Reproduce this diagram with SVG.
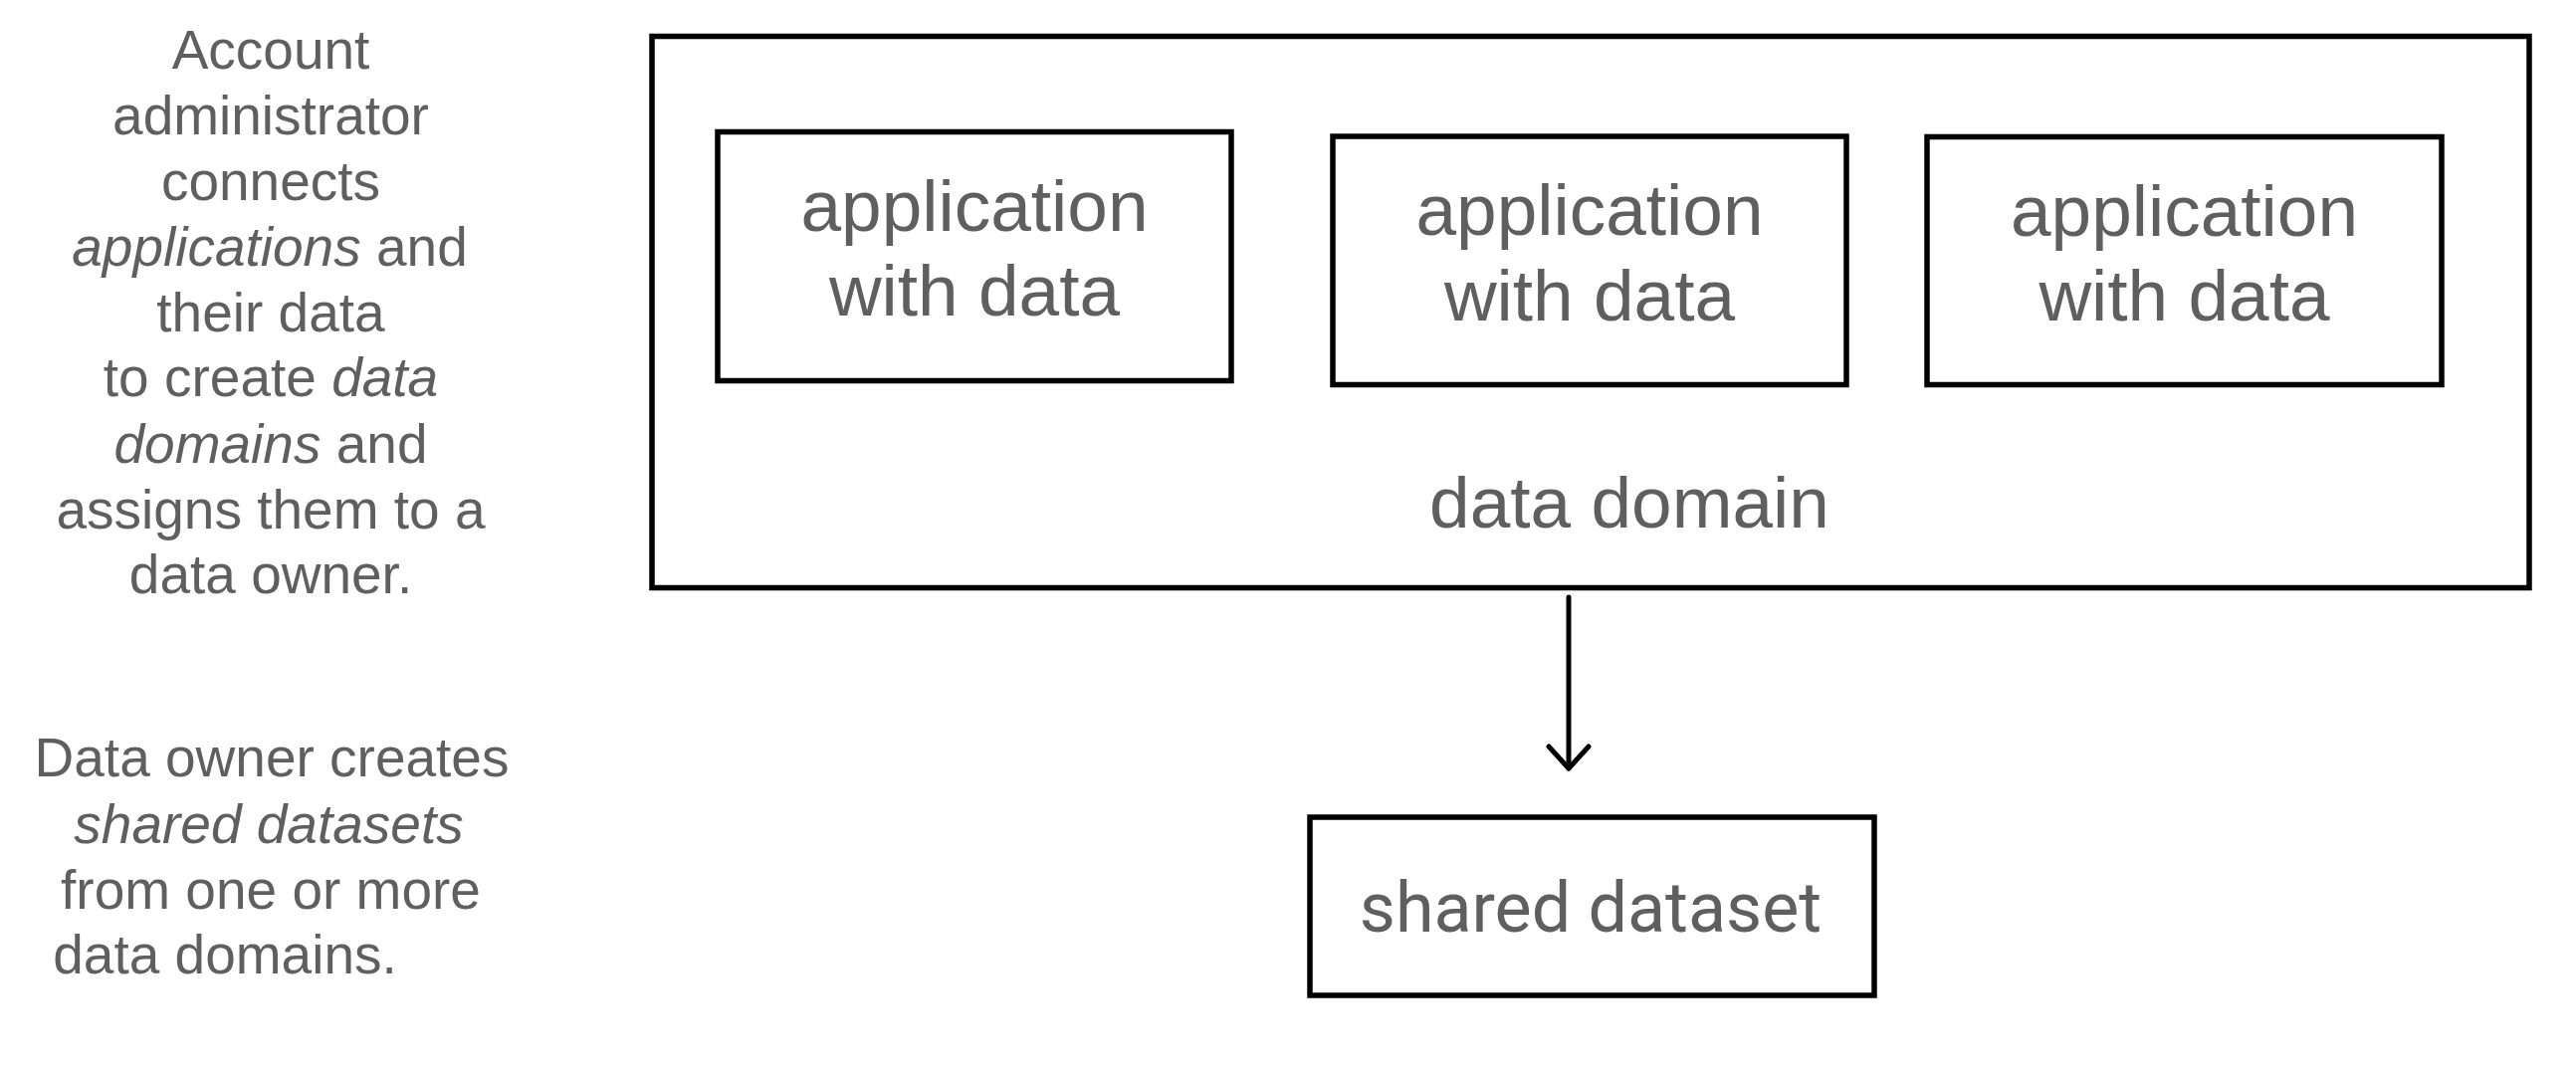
<svg xmlns="http://www.w3.org/2000/svg" width="2588" height="1078" viewBox="0 0 2588 1078">
<style>
.box{fill:none;stroke:#000;stroke-width:5.5}
.lbl{font-family:"Liberation Sans",Arial,sans-serif;font-size:73px;fill:#5f5f5f;text-anchor:middle}
.rob{font-family:Roboto,"Liberation Sans",sans-serif;font-size:70px;fill:#5f5f5f;text-anchor:middle}
.note{font-family:"Liberation Sans",Arial,sans-serif;font-size:55px;fill:#5f5f5f;text-anchor:middle}
.it{font-style:italic}
.conn{fill:none;stroke:#000;stroke-width:5;stroke-linecap:round;stroke-linejoin:round}
</style>
<rect width="2588" height="1078" fill="#fff"/>
<g id="note-admin">
<text class="note" x="272" y="69">Account</text>
<text class="note" x="272" y="135">administrator</text>
<text class="note" x="272" y="201">connects</text>
<text class="note" x="271" y="267"><tspan class="it">applications</tspan> and</text>
<text class="note" x="272" y="333">their data</text>
<text class="note" x="272" y="398">to create <tspan class="it">data</tspan></text>
<text class="note" x="272" y="465"><tspan class="it">domains</tspan> and</text>
<text class="note" x="272" y="531">assigns them to a</text>
<text class="note" x="272" y="596">data owner.</text>
</g>
<g id="note-owner">
<text class="note" x="273" y="780">Data owner creates</text>
<text class="note it" x="270" y="847">shared datasets</text>
<text class="note" x="272" y="913">from one or more</text>
<text class="note" x="226" y="978">data domains.</text>
</g>
<g id="data-domain">
<rect class="box" x="655" y="36.5" width="1886" height="554"/>
<text class="lbl" x="1637" y="530">data domain</text>
</g>
<g id="app1">
<rect class="box" x="721" y="132.5" width="516" height="250"/>
<text class="lbl" x="979" y="232">application</text>
<text class="lbl" x="979" y="317">with data</text>
</g>
<g id="app2">
<rect class="box" x="1339" y="137" width="516" height="249.5"/>
<text class="lbl" x="1597" y="236">application</text>
<text class="lbl" x="1597" y="322">with data</text>
</g>
<g id="app3">
<rect class="box" x="1936" y="137.5" width="517" height="249"/>
<text class="lbl" x="2194.5" y="236.5">application</text>
<text class="lbl" x="2194.5" y="322">with data</text>
</g>
<g id="shared-dataset">
<rect class="box" x="1316" y="821" width="567" height="179" stroke-width="6"/>
<text class="rob" x="1598" y="936">shared dataset</text>
</g>
<g id="connectors">
<path class="conn" d="M1576 600 V772"/>
<path class="conn" d="M1556 750 L1576 772 L1596 750"/>
</g>
</svg>
